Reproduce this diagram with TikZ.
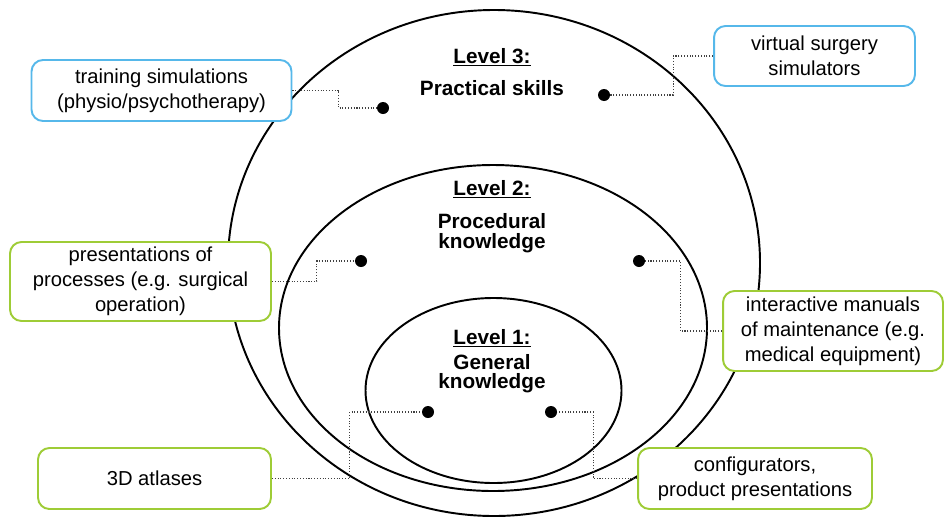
\documentclass[tikz,border=0pt]{standalone}
\usepackage{fontspec}
\setmainfont{Liberation Sans}
\usepackage{tikz}
\definecolor{simblue}{RGB}{86,184,234}
\definecolor{viewgreen}{RGB}{158,204,54}
\tikzset{
  usebox/.style={draw, line width=1.1pt, rounded corners=6.5pt, fill=white,
    align=center, inner sep=0pt, font=\fontsize{11.5}{14.3}\selectfont},
  simbox/.style={usebox, draw=simblue},
  viewbox/.style={usebox, draw=viewgreen},
  link/.style={densely dotted, line width=0.6pt, black!75},
  lvl/.style={anchor=base, font=\bfseries\fontsize{11.8}{14}\selectfont},
}
\def\pin#1{
    \fill (#1) circle (6);
}

\begin{document}
\begin{tikzpicture}[x=0.02cm, y=-0.02cm]
    \useasboundingbox (0,0) rectangle (945,521);
    % the three levels
    \draw[line width=1.1pt] (494,263) ellipse [x radius=266, y radius=253];
    \draw[line width=1.1pt] (493,328) ellipse [x radius=214, y radius=163];
    \draw[line width=1.1pt] (493.5,390.5) ellipse [x radius=128, y radius=92.5];
    \node[lvl] (t3) at (492,63) {\underline{Level 3:}};
    \node[lvl] (n3) at (492,95) {Practical skills};
    \node[lvl] (t2) at (492,195) {\underline{Level 2:}};
    \node[lvl] (n2a) at (492,228) {Procedural};
    \node[lvl] (n2b) at (492,248) {knowledge};
    \node[lvl] (t1) at (492,344) {\underline{Level 1:}};
    \node[lvl] (n1a) at (492,369) {General};
    \node[lvl] (n1b) at (492,388) {knowledge};
    \coordinate (d3l) at (383,108);
    \coordinate (d3r) at (604,95);
    \coordinate (d2l) at (361,261);
    \coordinate (d2r) at (639,261);
    \coordinate (d1l) at (428,412);
    \coordinate (d1r) at (551,412);
    % examples
    \node[simbox, minimum width=5.2cm, minimum height=1.22cm] (train) at (161.5,90.5)
        {training simulations\\(physio/psychotherapy)};
    \node[simbox, minimum width=4.02cm, minimum height=1.2cm] (virt) at (814.5,56)
        {virtual surgery\\simulators};
    \node[viewbox, minimum width=5.22cm, minimum height=1.58cm] (proc) at (140.5,281.5)
        {presentations of\\processes (e.g. surgical\\operation)};
    \node[viewbox, minimum width=4.4cm, minimum height=1.6cm] (manual) at (833,331)
        {interactive manuals\\of maintenance (e.g.\\medical equipment)};
    \node[viewbox, minimum width=4.66cm, minimum height=1.22cm] (atlas) at (154.5,478.5)
        {3D atlases};
    \node[viewbox, minimum width=4.68cm, minimum height=1.22cm] (config) at (755,478.5)
        {configurators,\\product presentations};
    \draw[link] (train.east) -- ++(46,0) |- (d3l);
    \draw[link] (virt.west) -- ++(-40,0) |- (d3r);
    \draw[link] (proc.east) -- ++(45,0) |- (d2l);
    \draw[link] (manual.west) -- ++(-42,0) |- (d2r);
    \draw[link] (atlas.east) -- ++(78,0) |- (d1l);
    \draw[link] (config.west) -- ++(-44,0) |- (d1r);
    \pin{d3l}
    \pin{d3r}
    \pin{d2l}
    \pin{d2r}
    \pin{d1l}
    \pin{d1r}
\end{tikzpicture}
\end{document}
